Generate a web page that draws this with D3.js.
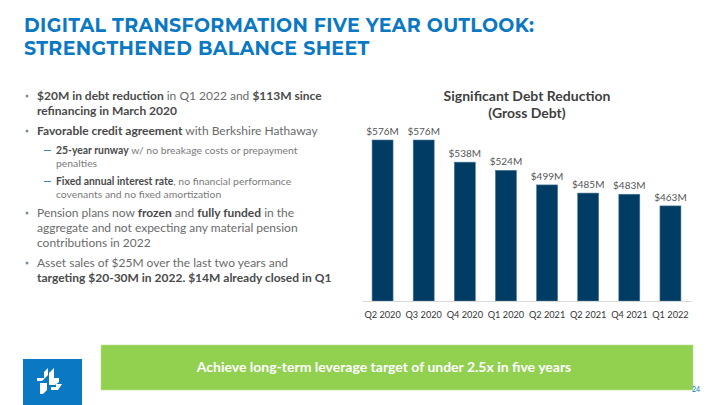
<!DOCTYPE html>
<html><head><meta charset="utf-8">
<script src="https://cdn.jsdelivr.net/npm/d3@7"></script>
<style>
html,body{margin:0;padding:0;background:#fff;}
svg{display:block;}
</style></head>
<body>
<script>
const categories = ["Q2 2020","Q3 2020","Q4 2020","Q1 2020","Q2 2021","Q2 2021","Q4 2021","Q1 2022"];
const debtValues = [576,576,538,524,499,485,483,463];
const valueLabels = ["$576M","$576M","$538M","$524M","$499M","$485M","$483M","$463M"];

const W=720,H=405;
const svg=d3.select("body").append("svg").attr("width",W).attr("height",H);

// Title
const titleColor="#0b78c3";
svg.append("text").attr("x",24).attr("y",32).attr("fill",titleColor)
  .attr("font-family","Montserrat, 'Open Sans', Roboto, sans-serif").attr("font-weight","bold")
  .attr("font-size",19).attr("letter-spacing",0.35).text("DIGITAL TRANSFORMATION FIVE YEAR OUTLOOK:");
svg.append("text").attr("x",24).attr("y",55).attr("fill",titleColor)
  .attr("font-family","Montserrat, 'Open Sans', Roboto, sans-serif").attr("font-weight","bold")
  .attr("font-size",19).attr("letter-spacing",0.35).text("STRENGTHENED BALANCE SHEET");

// Bullets
const gray="#6b6b6b", dark="#4a4a4a";
const lines=[
 {y:100,lvl:1,bullet:true,parts:[["$20M in debt reduction",1],[" in Q1 2022 and ",0],["$113M since",1]]},
 {y:115,lvl:1,parts:[["refinancing in March 2020",1]]},
 {y:135,lvl:1,bullet:true,parts:[["Favorable credit agreement",1],[" with Berkshire Hathaway",0]]},
 {y:154,lvl:2,bullet:true,parts:[["25-year runway",1],[" w/ no breakage costs or prepayment",0]]},
 {y:167,lvl:2,parts:[["penalties",0]]},
 {y:185,lvl:2,bullet:true,parts:[["Fixed annual interest rate",1],[", no financial performance",0]]},
 {y:198,lvl:2,parts:[["covenants and no fixed amortization",0]]},
 {y:217,lvl:1,bullet:true,parts:[["Pension plans now ",0],["frozen",1],[" and ",0],["fully funded",1],[" in the",0]]},
 {y:232,lvl:1,parts:[["aggregate and not expecting any material pension",0]]},
 {y:247,lvl:1,parts:[["contributions in 2022",0]]},
 {y:267,lvl:1,bullet:true,parts:[["Asset sales of $25M over the last two years and",0]]},
 {y:282,lvl:1,parts:[["targeting $20-30M in 2022. $14M already closed in Q1",1]]}
];
lines.forEach(l=>{
  const fs=l.lvl===1?12:10.4;
  const x=l.lvl===1?37:56;
  if(l.bullet){
    if(l.lvl===1) svg.append("circle").attr("cx",27).attr("cy",l.y-4).attr("r",1.5).attr("fill","#7a8fa0");
    else svg.append("line").attr("x1",44).attr("x2",51).attr("y1",l.y-3.5).attr("y2",l.y-3.5).attr("stroke","#3a84c0").attr("stroke-width",1);
  }
  const t=svg.append("text").attr("x",x).attr("y",l.y).attr("font-family","Lato, sans-serif").attr("font-size",fs);
  const g2=l.lvl===1?gray:"#7a7a7a";
  l.parts.forEach(p=>t.append("tspan").text(p[0]).attr("font-weight",p[1]?"bold":"normal").attr("fill",p[1]?dark:g2));
});

// Chart
const x=d3.scaleBand().domain(d3.range(categories.length)).range([362,691]).paddingInner(0.49).paddingOuter(0.245);
const y=d3.scaleLinear().domain([300,576]).range([301,140]);

svg.append("text").attr("x",527).attr("y",101).attr("text-anchor","middle").attr("font-family","Lato, sans-serif")
  .attr("font-weight","bold").attr("font-size",14).attr("fill","#3f3f3f").text("Significant Debt Reduction");
svg.append("text").attr("x",527).attr("y",118).attr("text-anchor","middle").attr("font-family","Lato, sans-serif")
  .attr("font-weight","bold").attr("font-size",14).attr("fill","#3f3f3f").text("(Gross Debt)");

svg.append("g").selectAll("rect").data(debtValues).join("rect")
  .attr("x",(d,i)=>x(i)).attr("width",x.bandwidth())
  .attr("y",d=>y(d)).attr("height",d=>y(300)-y(d))
  .attr("fill","#003c64").attr("stroke","#4d7896").attr("stroke-width",0.6);

svg.append("g").selectAll("text").data(debtValues).join("text")
  .attr("x",(d,i)=>x(i)+x.bandwidth()/2).attr("y",d=>y(d)-5)
  .attr("text-anchor","middle").attr("font-family","Lato, sans-serif").attr("font-size",10)
  .attr("fill","#555").text((d,i)=>valueLabels[i]);

const xAxis=svg.append("g").attr("transform","translate(0,301)")
  .call(d3.axisBottom(x).tickSize(0).tickPadding(10).tickFormat(i=>categories[i]));
xAxis.select(".domain").attr("stroke","#d9d9d9").attr("stroke-width",1);
xAxis.selectAll("text").attr("font-family","Lato, sans-serif").attr("font-size",9.2).attr("fill","#333");

// Green banner
svg.append("rect").attr("x",101).attr("y",345).attr("width",592).attr("height",45).attr("fill","#92d050").attr("stroke","#b7e08f").attr("stroke-width",0.6);
svg.append("text").attr("x",384).attr("y",372).attr("text-anchor","middle").attr("font-family","Lato, sans-serif")
  .attr("font-weight","bold").attr("font-size",14).attr("fill","#fff").text("Achieve long-term leverage target of under 2.5x in five years");

// Logo
svg.append("rect").attr("x",23).attr("y",359).attr("width",59).attr("height",46).attr("fill","#0a78c3");
const lg=svg.append("g").attr("fill","#fff");
lg.append("path").attr("d","M37,378 L44,378 L44,372 L48,368 L48,375 L42,381 L37,381 Z");
lg.append("path").attr("d","M49,373 L54,368 L54,378 L59,378 L59,382 L55,385 L49,385 Z");
lg.append("path").attr("d","M40,383 L47,383 L47,390 L43,394 L40,394 Z");
lg.append("path").attr("d","M51,387 L56,387 L56,384 L62,384 L58,390 L51,390 Z");

svg.append("text").attr("x",700).attr("y",392).attr("text-anchor","end").attr("font-family","Lato, sans-serif")
  .attr("font-size",7).attr("fill","#0a78c3").text("24");
</script>
</body></html>
